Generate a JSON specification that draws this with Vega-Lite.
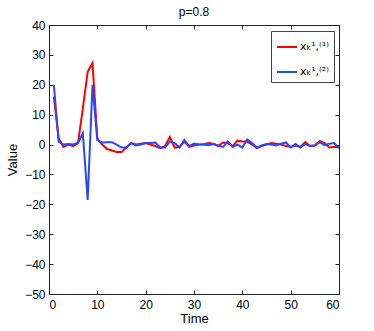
{
  "$schema": "https://vega.github.io/schema/vega-lite/v6.json",
  "width": 290,
  "height": 269,
  "autosize": {"type": "none"},
  "padding": {"left": 49, "top": 25, "right": 35, "bottom": 37},
  "title": {"text": "p=0.8", "fontSize": 12, "fontWeight": "normal", "font": "Liberation Sans", "offset": 0, "color": "#000"},
  "config": {
    "view": {"stroke": "#222", "strokeWidth": 1},
    "axis": {"grid": false, "labelFont": "Liberation Sans", "labelFontSize": 12, "labelColor": "#000", "titleFont": "Liberation Sans", "titleFontSize": 13, "titleFontWeight": "normal", "titleColor": "#000", "tickColor": "#222", "domain": false, "tickSize": -4}
  },
  "data": {"values": [
    {"t":1,"v":16,"s":"a"},{"t":2,"v":2,"s":"a"},{"t":3,"v":-0.8,"s":"a"},{"t":4,"v":0,"s":"a"},{"t":5,"v":-0.5,"s":"a"},{"t":6,"v":0.5,"s":"a"},{"t":7,"v":12,"s":"a"},{"t":8,"v":24.3,"s":"a"},{"t":9,"v":27.3,"s":"a"},{"t":10,"v":2,"s":"a"},
    {"t":11,"v":0,"s":"a"},{"t":12,"v":-1.5,"s":"a"},{"t":13,"v":-2,"s":"a"},{"t":14,"v":-2.5,"s":"a"},{"t":15,"v":-2.5,"s":"a"},{"t":16,"v":-1,"s":"a"},{"t":17,"v":0.5,"s":"a"},{"t":18,"v":0,"s":"a"},{"t":19,"v":0.3,"s":"a"},{"t":20,"v":0.5,"s":"a"},
    {"t":21,"v":0,"s":"a"},{"t":22,"v":-0.5,"s":"a"},{"t":23,"v":-1.2,"s":"a"},{"t":24,"v":-0.5,"s":"a"},{"t":25,"v":2.5,"s":"a"},{"t":26,"v":-1,"s":"a"},{"t":27,"v":-0.8,"s":"a"},{"t":28,"v":1,"s":"a"},{"t":29,"v":-0.8,"s":"a"},{"t":30,"v":-0.3,"s":"a"},
    {"t":31,"v":0,"s":"a"},{"t":32,"v":0,"s":"a"},{"t":33,"v":0.5,"s":"a"},{"t":34,"v":0.3,"s":"a"},{"t":35,"v":-0.5,"s":"a"},{"t":36,"v":0.7,"s":"a"},{"t":37,"v":0.5,"s":"a"},{"t":38,"v":-0.5,"s":"a"},{"t":39,"v":1.3,"s":"a"},{"t":40,"v":1,"s":"a"},
    {"t":41,"v":1,"s":"a"},{"t":42,"v":0,"s":"a"},{"t":43,"v":-1.2,"s":"a"},{"t":44,"v":-0.5,"s":"a"},{"t":45,"v":0,"s":"a"},{"t":46,"v":0.5,"s":"a"},{"t":47,"v":0.3,"s":"a"},{"t":48,"v":0,"s":"a"},{"t":49,"v":-0.5,"s":"a"},{"t":50,"v":-0.7,"s":"a"},
    {"t":51,"v":-0.3,"s":"a"},{"t":52,"v":-0.8,"s":"a"},{"t":53,"v":0.8,"s":"a"},{"t":54,"v":-0.5,"s":"a"},{"t":55,"v":-0.3,"s":"a"},{"t":56,"v":1.2,"s":"a"},{"t":57,"v":0.5,"s":"a"},{"t":58,"v":-1,"s":"a"},{"t":59,"v":-0.8,"s":"a"},{"t":60,"v":-0.8,"s":"a"},
    {"t":1,"v":20,"s":"b"},{"t":2,"v":1,"s":"b"},{"t":3,"v":0,"s":"b"},{"t":4,"v":0.2,"s":"b"},{"t":5,"v":0,"s":"b"},{"t":6,"v":0.5,"s":"b"},{"t":7,"v":3.8,"s":"b"},{"t":8,"v":-18.5,"s":"b"},{"t":9,"v":20,"s":"b"},{"t":10,"v":1.5,"s":"b"},
    {"t":11,"v":0.7,"s":"b"},{"t":12,"v":0.8,"s":"b"},{"t":13,"v":0.8,"s":"b"},{"t":14,"v":0,"s":"b"},{"t":15,"v":-1,"s":"b"},{"t":16,"v":-1,"s":"b"},{"t":17,"v":0.5,"s":"b"},{"t":18,"v":-0.3,"s":"b"},{"t":19,"v":0,"s":"b"},{"t":20,"v":0.5,"s":"b"},
    {"t":21,"v":0.5,"s":"b"},{"t":22,"v":0.7,"s":"b"},{"t":23,"v":-1,"s":"b"},{"t":24,"v":-1,"s":"b"},{"t":25,"v":1,"s":"b"},{"t":26,"v":0.5,"s":"b"},{"t":27,"v":-1,"s":"b"},{"t":28,"v":1.5,"s":"b"},{"t":29,"v":-0.5,"s":"b"},{"t":30,"v":0.3,"s":"b"},
    {"t":31,"v":0,"s":"b"},{"t":32,"v":0,"s":"b"},{"t":33,"v":-0.2,"s":"b"},{"t":34,"v":0.2,"s":"b"},{"t":35,"v":-0.3,"s":"b"},{"t":36,"v":-0.8,"s":"b"},{"t":37,"v":1,"s":"b"},{"t":38,"v":-0.8,"s":"b"},{"t":39,"v":0,"s":"b"},{"t":40,"v":-1,"s":"b"},
    {"t":41,"v":1.7,"s":"b"},{"t":42,"v":0.5,"s":"b"},{"t":43,"v":-1,"s":"b"},{"t":44,"v":-0.3,"s":"b"},{"t":45,"v":0.2,"s":"b"},{"t":46,"v":0,"s":"b"},{"t":47,"v":-0.3,"s":"b"},{"t":48,"v":0.3,"s":"b"},{"t":49,"v":0.7,"s":"b"},{"t":50,"v":-1,"s":"b"},
    {"t":51,"v":0.2,"s":"b"},{"t":52,"v":-1,"s":"b"},{"t":53,"v":0.2,"s":"b"},{"t":54,"v":-0.5,"s":"b"},{"t":55,"v":-0.3,"s":"b"},{"t":56,"v":0.8,"s":"b"},{"t":57,"v":-0.2,"s":"b"},{"t":58,"v":0.3,"s":"b"},{"t":59,"v":0.5,"s":"b"},{"t":60,"v":-1.3,"s":"b"}
  ]},
  "layer": [
    {
      "mark": {"type": "line", "strokeWidth": 2},
      "encoding": {
        "x": {"field": "t", "type": "quantitative", "scale": {"domain": [0, 60], "nice": false, "zero": false}, "axis": {"title": "Time", "values": [0,10,20,30,40,50,60], "labelPadding": 9, "titleY": 18}},
        "y": {"field": "v", "type": "quantitative", "scale": {"domain": [-50, 40], "nice": false}, "axis": {"title": "Value", "values": [-50,-40,-30,-20,-10,0,10,20,30,40], "labelPadding": 8, "titleX": -30}},
        "color": {"field": "s", "type": "nominal", "scale": {"domain": ["a", "b"], "range": ["#ff0000", "#2846ff"]},
          "legend": {"title": null, "orient": "none", "legendX": 222, "legendY": 6, "labelExpr": "datum.value == 'a' ? 'xₖ¹,⁽¹⁾' : 'xₖ¹,⁽²⁾'", "labelFont": "DejaVu Sans", "labelFontSize": 11, "symbolType": "stroke", "symbolSize": 400, "symbolStrokeWidth": 2, "strokeColor": "#444", "fillColor": "#fff", "padding": 5, "rowPadding": 9, "labelOffset": 2}}
      }
    },
    {
      "mark": {"type": "line", "opacity": 0},
      "encoding": {
        "x": {"field": "t", "type": "quantitative", "scale": {"domain": [0, 60], "nice": false, "zero": false}, "axis": {"orient": "top", "labels": false, "title": null, "values": [0,10,20,30,40,50,60]}},
        "y": {"field": "v", "type": "quantitative", "scale": {"domain": [-50, 40], "nice": false}, "axis": {"orient": "right", "labels": false, "title": null, "values": [-50,-40,-30,-20,-10,0,10,20,30,40]}}
      }
    }
  ],
  "resolve": {"axis": {"x": "independent", "y": "independent"}}
}
